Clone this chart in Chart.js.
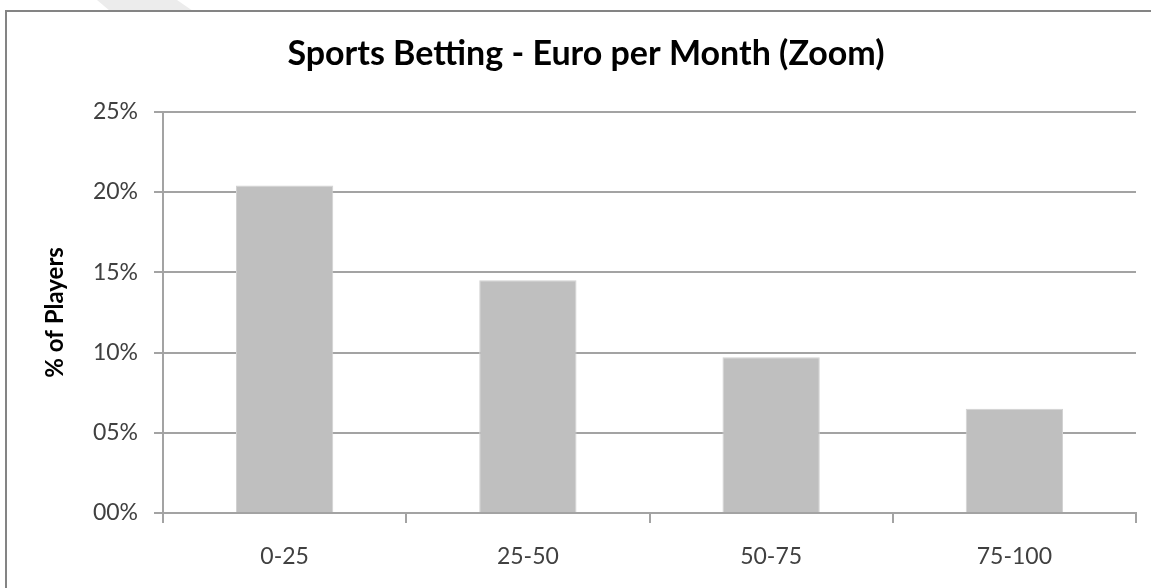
<!DOCTYPE html>
<html>
<head>
<meta charset="utf-8">
<script src="https://cdn.jsdelivr.net/npm/chart.js@4"></script>
<style>
  html, body { margin: 0; padding: 0; background: #fff; overflow: hidden; }
  #wrap { position: relative; width: 1151px; height: 588px; }
  #shade { position: absolute; left: 0; top: 0; width: 300px; height: 11px; background: #ececec;
           clip-path: polygon(97px 0, 177px 0, 193px 11px, 110px 11px); }
  #frame { position: absolute; left: 5px; top: 10px; width: 1200px; height: 700px;
           border: 2px solid #848484; }
  #chart { position: absolute; left: 0; top: 0; }
</style>
</head>
<body>
<div id="wrap">
  <div id="shade"></div>
  <div id="frame"></div>
  <canvas id="chart" width="1151" height="588"></canvas>
</div>
<script>
// chart data
const categories = ['0-25', '25-50', '50-75', '75-100'];
const playerShare = [20.4, 14.5, 9.7, 6.5];   // % of players
const yTickLabels = ['00%', '05%', '10%', '15%', '20%', '25%'];

const gridGrey = '#a3a3a3';
const font = 'Lato, "Open Sans", sans-serif';

const ctx = document.getElementById('chart').getContext('2d');
new Chart(ctx, {
    type: 'bar',
    data: {
        labels: categories,
        datasets: [{
            label: '% of Players',
            data: playerShare,
            backgroundColor: '#bfbfbf',
            borderColor: '#d2d2d2',
            borderWidth: 1,
            barPercentage: 0.4,
            categoryPercentage: 1
        }]
    },
    options: {
        responsive: false,
        animation: false,
        // left padding shifts the title centre to match the original frame
        layout: { padding: { left: 36, right: 15, top: 0, bottom: 0 } },
        plugins: {
            legend: { display: false },
            tooltip: { enabled: false },
            title: {
                display: true,
                text: 'Sports Betting - Euro per Month (Zoom)',
                color: '#000',
                font: { family: font, size: 34, weight: 'bold' },
                padding: { top: 34, bottom: 37 }
            }
        },
        scales: {
            x: {
                grid: {
                    display: true,
                    drawOnChartArea: false,
                    drawTicks: true,
                    tickLength: 10,
                    color: gridGrey,
                    lineWidth: 2,
                    offset: true
                },
                border: { display: true, color: gridGrey, width: 2 },
                ticks: {
                    color: '#404040',
                    font: { family: font, size: 23 },
                    padding: 20
                },
                afterFit: scale => { scale.height = 75; }
            },
            y: {
                min: 0,
                max: 25,
                ticks: {
                    stepSize: 5,
                    color: '#404040',
                    font: { family: font, size: 23 },
                    padding: 16,
                    callback: (value, index) => yTickLabels[index]
                },
                grid: {
                    color: gridGrey,
                    lineWidth: 2,
                    tickLength: 9
                },
                border: { display: true, color: gridGrey, width: 2 },
                title: {
                    display: true,
                    text: '% of Players',
                    color: '#000',
                    font: { family: font, size: 24, weight: 'bold' },
                    padding: { top: 5, bottom: 0 }
                },
                afterFit: scale => { scale.width = 127; }
            }
        }
    }
});
</script>
</body>
</html>
